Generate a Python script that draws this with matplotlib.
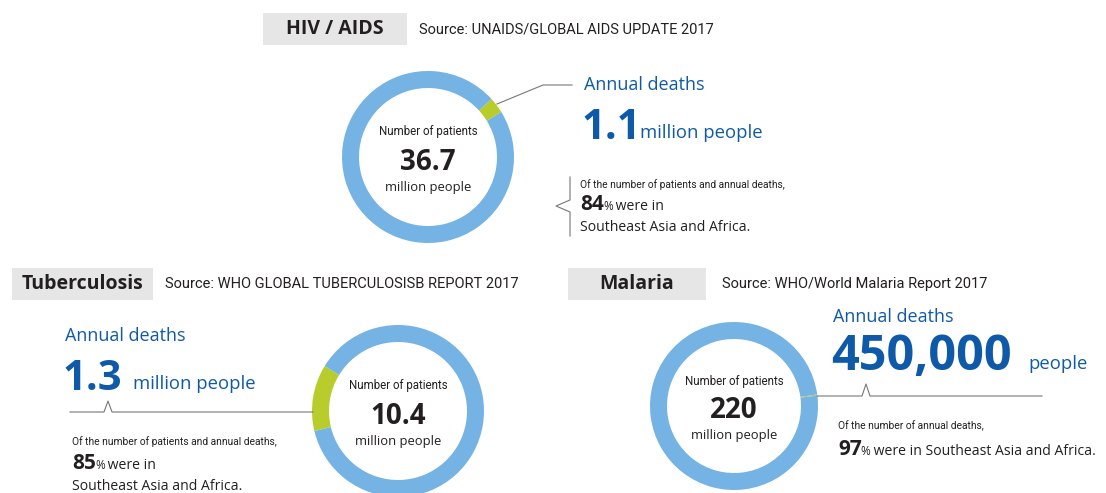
import numpy as np
import matplotlib.pyplot as plt

# Datos (millones de personas)
diseases = ["HIV / AIDS", "Tuberculosis", "Malaria"]
sources = ["Source: UNAIDS/GLOBAL AIDS UPDATE 2017",
           "Source: WHO GLOBAL TUBERCULOSISB REPORT 2017",
           "Source: WHO/World Malaria Report 2017"]
patients = [36.7, 10.4, 220]
deaths = [1.1, 1.3, 0.45]
patients_labels = ["36.7", "10.4", "220"]
deaths_labels = ["1.1", "1.3", "450,000"]
deaths_units = ["million people", "million people", "people"]
region_pct = [84, 85, 97]

W, H = 1106, 493
BLUE_RING = "#74b3e4"
GREEN = "#b8cc2c"
DARK_BLUE = "#0f5aa8"
GREY_BOX = "#e6e6e6"
TXT = "#231f20"
BODY = ["Open Sans", "DejaVu Sans"]
NARROW = ["Liberation Sans Narrow", "Roboto", "DejaVu Sans"]

def py(y):
    # coordenada de pixel (desde arriba) -> coordenada de datos
    return H - y

fig = plt.figure(figsize=(W / 100, H / 100), dpi=100)
ax = fig.add_axes([0, 0, 1, 1])

# Posicion de cada anillo: centro, radio y angulo medio del segmento verde
rings = [((428, 157), 86, 37), ((398, 411), 86, 171), ((734, 406), 84, 7.5)]

for i, ((cx, cy), r, mid) in enumerate(rings):
    frac = deaths[i] / patients[i]
    start = mid - frac * 360 / 2
    ax.pie([deaths[i], patients[i] - deaths[i]], center=(cx, py(cy)), radius=r,
           startangle=start, colors=[GREEN, BLUE_RING],
           wedgeprops=dict(width=17, linewidth=0))
    ax.text(cx, py(cy - 25), "Number of patients", ha="center", va="center",
            fontsize=8.3, family=NARROW, color=TXT)
    ax.text(cx, py(cy + 5), patients_labels[i], ha="center", va="center",
            fontsize=20, fontweight="bold", family=BODY, color=TXT)
    ax.text(cx, py(cy + 30), "million people", ha="center", va="center",
            fontsize=9.4, family=BODY, color=TXT)

ax.set_xlim(0, W)
ax.set_ylim(0, H)
ax.set_aspect("auto")
ax.axis("off")

# Cabeceras
headers = [((263, 13, 144, 32), 419), ((12, 268, 141, 32), 165), ((568, 268, 138, 32), 722)]
for i, ((bx, by, bw, bh), sx) in enumerate(headers):
    ax.add_patch(plt.Rectangle((bx, py(by + bh)), bw, bh, color=GREY_BOX, lw=0))
    ax.text(bx + bw / 2, py(by + bh / 2), diseases[i], ha="center", va="center",
            fontsize=14, fontweight="bold", family=BODY, color=TXT)
    ax.text(sx, py(by + bh / 2), sources[i], ha="left", va="center",
            fontsize=10.5, family=NARROW, color=TXT)

# Bloques de muertes anuales: x, baseline "Annual deaths", baseline numero, x unidad
blocks = [(584, 90, 139, 640), (65, 341, 390, 133), (833, 322, 370, 1028)]
for i, (x, yb1, yb2, ux) in enumerate(blocks):
    ax.text(x, py(yb1), "Annual deaths", ha="left", va="baseline",
            fontsize=13, family=BODY, color=DARK_BLUE)
    ax.text(x - 2, py(yb2), deaths_labels[i], ha="left", va="baseline",
            fontsize=30 if i < 2 else 35, fontweight="bold", family=BODY, color=DARK_BLUE)
    ax.text(ux, py(yb2 - 1), deaths_units[i], ha="left", va="baseline",
            fontsize=13.3, family=BODY, color=DARK_BLUE)

# Notas de porcentaje
fig.canvas.draw()
renderer = fig.canvas.get_renderer()
inv = ax.transData.inverted()

notes = [(580, 188, 210, 231), (72, 445, 469, 490), (838, 429, 455, None)]
for i, (x, y1, y2, y3) in enumerate(notes):
    intro = ("Of the number of annual deaths," if i == 2
             else "Of the number of patients and annual deaths,")
    ax.text(x, py(y1), intro, ha="left", va="baseline", fontsize=7.4,
            family=NARROW, color=TXT)
    t = ax.text(x, py(y2), str(region_pct[i]), ha="left", va="baseline",
                fontsize=15, fontweight="bold", family=BODY, color=TXT)
    x1 = inv.transform((t.get_window_extent(renderer).x1, 0))[0] - 1
    p = ax.text(x1, py(y2), "%", ha="left", va="baseline", fontsize=8.5,
                family=BODY, color=TXT)
    x2 = inv.transform((p.get_window_extent(renderer).x1, 0))[0] - 1
    rest = " were in Southeast Asia and Africa." if y3 is None else " were in"
    ax.text(x2, py(y2), rest, ha="left", va="baseline", fontsize=10.1,
            family=BODY, color=TXT)
    if y3 is not None:
        ax.text(x, py(y3), "Southeast Asia and Africa.", ha="left", va="baseline",
                fontsize=10.1, family=BODY, color=TXT)

# Lineas guia
lc = "#777777"
ax.plot([497, 543, 572], [py(104), py(85), py(85)], color=lc, lw=0.8)
ax.plot([570, 570, 556, 570, 570], [py(177), py(200), py(206), py(212), py(236)], color=lc, lw=0.8)
ax.plot([70, 104, 108, 112, 313], [py(412), py(412), py(401), py(412), py(412)], color=lc, lw=0.8)
ax.plot([817, 862, 866, 870, 1042], [py(396), py(396), py(384), py(396), py(396)], color=lc, lw=0.8)

fig.savefig("out.png", dpi=100)
